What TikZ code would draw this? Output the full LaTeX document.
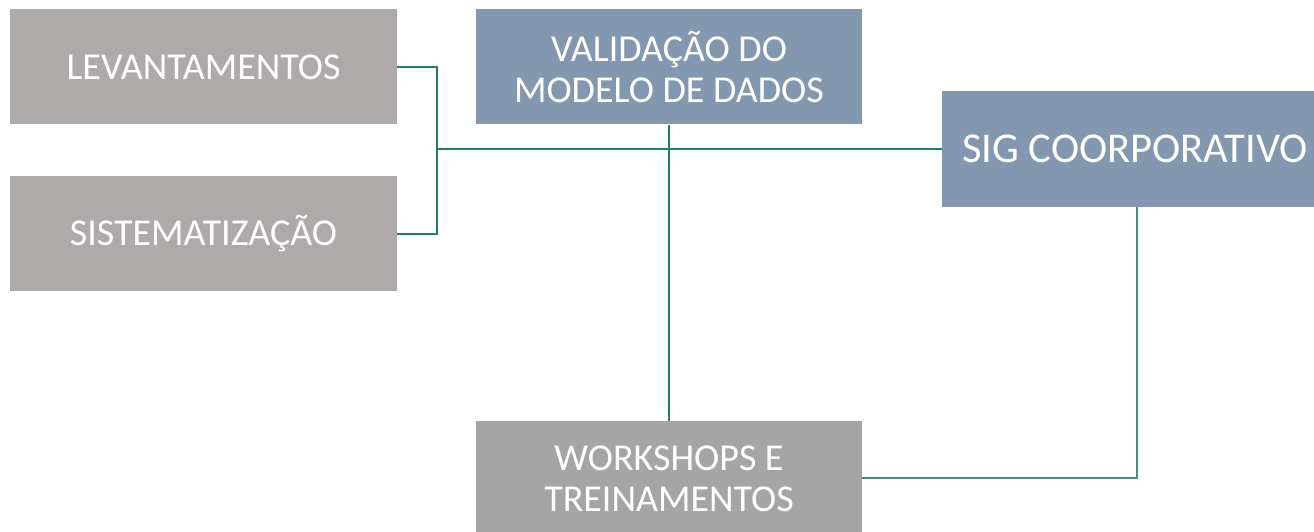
\documentclass[tikz,border=0pt]{standalone}
\usepackage{fontspec}
\setmainfont{Carlito}
\definecolor{boxgray}{HTML}{AEAAAA}
\definecolor{boxblue}{HTML}{8497B0}
\definecolor{boxgray2}{HTML}{A5A5A5}
\definecolor{lgreen}{HTML}{22805F}
\definecolor{lteal}{HTML}{4E8C80}
\begin{document}
\begin{tikzpicture}[x=1pt,y=-1pt,
  box/.style={draw=none,inner sep=0pt,text=white,align=center,font=\fontsize{38}{41}\selectfont},
  conn/.style={draw=lgreen,line width=2pt}]
\useasboundingbox (0,0) rectangle (1314,532);
\clip (0,0) rectangle (1314,532);
\node[box,fill=boxgray,minimum width=387pt,minimum height=115pt] (lev) at (203.5,67) {LEVANTAMENTOS};
\node[box,fill=boxgray,minimum width=387pt,minimum height=115pt] (sis) at (203.5,233.5) {SISTEMATIZAÇÃO};
\node[box,fill=boxblue,minimum width=386pt,minimum height=115pt] (val) at (669,67) {VALIDAÇÃO DO\\MODELO DE DADOS};
\node[box,fill=boxblue,minimum width=386pt,minimum height=116pt,font=\fontsize{42.5}{46}\selectfont] (sig) at (1135,149) {SIG COORPORATIVO};
\node[box,fill=boxgray2,minimum width=386pt,minimum height=115pt] (ws) at (669,478.5) {WORKSHOPS E\\TREINAMENTOS};
\coordinate (j1) at (437,67);
\coordinate (j2) at (437,234);
\coordinate (jm) at (437,149);
\coordinate (c1) at (1137,478);
\draw[conn] (lev.east |- j1) -- (j1) -- (j2) -- (sis.east |- j2);
\draw[conn] (jm) -- (sig.west |- jm);
\draw[conn] (val.south) -- (ws.north);
\draw[draw=lteal,line width=2pt] (sig.south -| c1) -- (c1) -- (ws.east |- c1);
\end{tikzpicture}
\end{document}
